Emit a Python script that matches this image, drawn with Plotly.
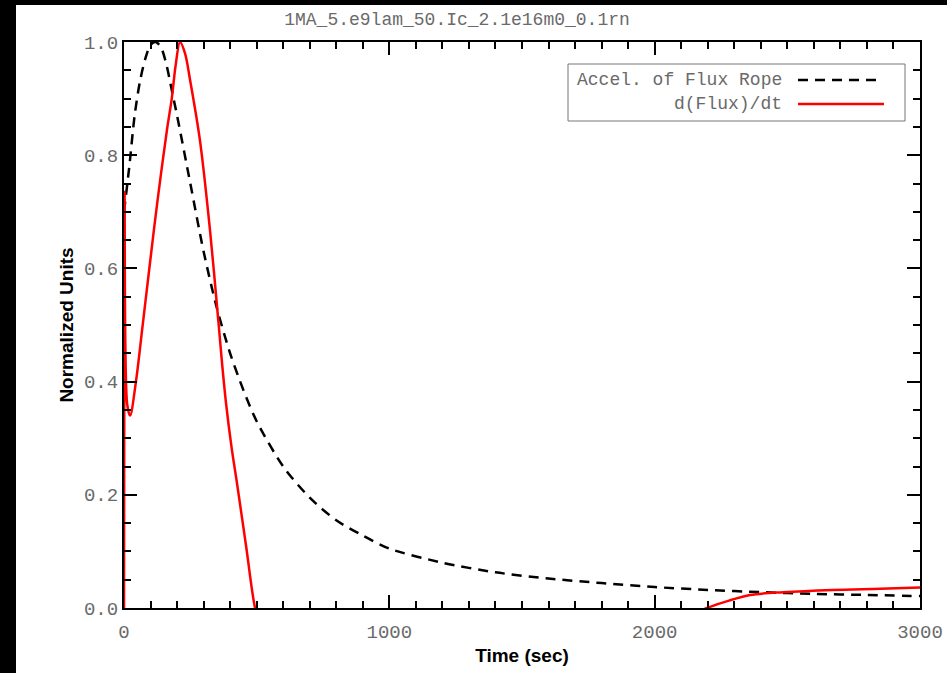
import plotly.graph_objects as go

# ---- data ----
accel_t = [0, 20, 40, 60, 80, 100, 120, 140, 160, 180, 200, 250, 300, 350, 400, 450, 500,
           600, 700, 800, 900, 1000, 1200, 1400, 1600, 1800, 2000, 2200, 2400, 2600, 2800, 3000]
accel_y = [0.70, 0.78, 0.87, 0.93, 0.97, 0.995, 1.0, 0.99, 0.96, 0.915, 0.87, 0.75, 0.63, 0.53,
           0.45, 0.385, 0.33, 0.25, 0.195, 0.155, 0.128, 0.105, 0.08, 0.063, 0.052, 0.044,
           0.037, 0.032, 0.028, 0.025, 0.023, 0.021]

flux_t = [0, 2, 12, 23, 45, 68, 98, 128, 162, 180, 195, 211, 230, 249, 286, 324, 355, 370,
          385, 405, 426, 460, 494, 520, 600, 800, 1200, 1700, 2100, 2197, 2280, 2360, 2484,
          2672, 2850, 3000]
flux_y = [0.0, 0.735, 0.36, 0.34, 0.40, 0.49, 0.61, 0.726, 0.845, 0.90, 0.96, 1.0, 0.98, 0.933,
          0.827, 0.668, 0.51, 0.43, 0.36, 0.285, 0.22, 0.11, 0.0, -0.04, -0.1, -0.15, -0.15,
          -0.08, -0.02, 0.0, 0.013, 0.023, 0.028, 0.032, 0.034, 0.036]

x_ticks = [0, 1000, 2000, 3000]
y_ticks = [0.0, 0.2, 0.4, 0.6, 0.8, 1.0]
y_ticklabels = ["0.0", "0.2", "0.4", "0.6", "0.8", "1.0"]

title_text = "1MA_5.e9lam_50.Ic_2.1e16m0_0.1rn"
legend_names = ["Accel. of Flux Rope", "d(Flux)/dt"]

# ---- layout geometry (pixels) ----
W, H = 947, 673
L, R, T, B = 124, 920, 42, 608
pw, ph = R - L, B - T


def px(x):
    return (x - L) / pw


def py(y):
    return (B - y) / ph


fig = go.Figure()
fig.add_trace(go.Scatter(x=accel_t, y=accel_y, mode="lines", name=legend_names[0],
                         line=dict(color="black", width=2.5, dash="10px,7px",
                                   shape="spline", smoothing=0.8),
                         showlegend=False))
fig.add_trace(go.Scatter(x=flux_t, y=flux_y, mode="lines", name=legend_names[1],
                         line=dict(color="#ff0000", width=2.5, shape="spline", smoothing=0.9),
                         showlegend=False))

mono = "Liberation Mono"
gray = "#6a6a6a"
tickfont = dict(family=mono, size=19, color=gray)

fig.update_xaxes(range=[0, 3000], tickvals=x_ticks, ticks="inside", ticklen=13, tickwidth=2,
                 tickcolor="black", showline=True, linewidth=2, linecolor="black",
                 mirror="ticks", showgrid=False, zeroline=False, tickfont=tickfont,
                 ticklabelstandoff=5,
                 minor=dict(dtick=100, ticks="inside", ticklen=7, tickwidth=2,
                            tickcolor="black", showgrid=False),
                 title=dict(text="<b>Time (sec)</b>", standoff=6,
                            font=dict(family="Liberation Sans", size=19, color="black")))
fig.update_yaxes(range=[0, 1], tickvals=y_ticks, ticktext=y_ticklabels, ticks="inside",
                 ticklen=13, tickwidth=2, tickcolor="black", showline=True, linewidth=2,
                 linecolor="black", mirror="ticks", showgrid=False, zeroline=False,
                 tickfont=tickfont,
                 minor=dict(dtick=0.05, ticks="inside", ticklen=7, tickwidth=2,
                            tickcolor="black", showgrid=False),
                 title=dict(text="<b>Normalized Units</b>", standoff=5,
                            font=dict(family="Liberation Sans", size=19, color="black")))

shapes = [
    # black strips on the left and top edges of the picture
    dict(type="rect", xref="paper", yref="paper", x0=px(-5), x1=px(16), y0=py(H + 5), y1=py(-5),
         fillcolor="black", line=dict(width=0), layer="above"),
    dict(type="rect", xref="paper", yref="paper", x0=px(-5), x1=px(W + 5), y0=py(5), y1=py(-5),
         fillcolor="black", line=dict(width=0), layer="above"),
    # legend box
    dict(type="rect", xref="paper", yref="paper", x0=px(568), x1=px(905), y0=py(121), y1=py(64),
         fillcolor="white", line=dict(color="#777777", width=1), layer="above"),
    dict(type="line", xref="paper", yref="paper", x0=px(798), x1=px(880), y0=py(80), y1=py(80),
         line=dict(color="black", width=2.5, dash="10px,7px"), layer="above"),
    dict(type="line", xref="paper", yref="paper", x0=px(798), x1=px(884), y0=py(104), y1=py(104),
         line=dict(color="#ff0000", width=2.5), layer="above"),
]

legfont = dict(family=mono, size=18, color=gray)
annotations = [
    dict(text=legend_names[0], xref="paper", yref="paper", x=px(784), y=py(80),
         xanchor="right", yanchor="middle", showarrow=False, font=legfont),
    dict(text=legend_names[1], xref="paper", yref="paper", x=px(784), y=py(104),
         xanchor="right", yanchor="middle", showarrow=False, font=legfont),
]

fig.update_layout(
    width=W, height=H, autosize=False,
    margin=dict(l=L, r=W - R, t=T, b=H - B, autoexpand=False),
    paper_bgcolor="white", plot_bgcolor="white",
    title=dict(text=title_text, xref="container", x=457 / W, xanchor="center",
               yref="container", y=1 - 19 / H, yanchor="middle",
               font=dict(family=mono, size=18, color=gray)),
    shapes=shapes, annotations=annotations, showlegend=False,
)

fig.write_html("out.html")
